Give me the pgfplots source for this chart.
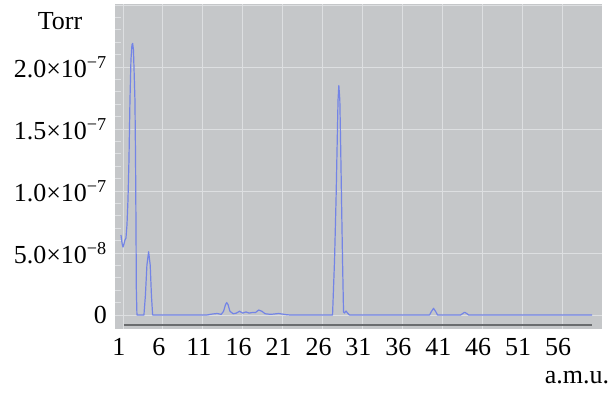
\documentclass[border=0pt]{standalone}
\usepackage{fontspec}
\setmainfont{Liberation Serif}
\usepackage{pgfplots}
\pgfplotsset{compat=1.18}
\definecolor{panel}{HTML}{C5C7C9}
\definecolor{gridc}{HTML}{DDDFE1}
\definecolor{trace}{HTML}{7384E6}
\definecolor{barc}{HTML}{6A6C6E}
\newcommand{\sci}[2]{#1×10\textsuperscript{−#2}}
\begin{document}
\begin{tikzpicture}
\begin{axis}[
  name=ax,
  scale only axis,
  width=487bp, height=325bp,
  xmin=0, xmax=61,
  ymin=-1.13e-8, ymax=2.508e-7,
  scaled y ticks=false,
  scaled x ticks=false,
  axis background/.style={fill=panel},
  axis line style={draw=none},
  xtick={1,6,11,16,21,26,31,36,41,46,51,56},
  xticklabels={1,6,11,16,21,26,31,36,41,46,51,56},
  ytick={0,5e-8,1e-7,1.5e-7,2e-7,2.5e-7},
  yticklabels={0,\sci{5.0}{8},\sci{1.0}{7},\sci{1.5}{7},\sci{2.0}{7},{}},
  major tick length=0pt,
  minor y tick num=4,
  minor tick length=6bp,
  ytick pos=left,
  xtick pos=bottom,
  tick align=inside,
  minor y tick style={draw=gridc, line width=0.6bp},
  grid=major,
  major grid style={draw=gridc, line width=0.9bp},
  tick label style={font=\fontsize{26bp}{30bp}\selectfont},
  xticklabel style={anchor=base, inner sep=0pt, yshift=-26bp, xshift=-4bp},
  yticklabel style={anchor=east, inner sep=0pt, xshift=-8bp},
]
\addplot[draw=barc, line width=2.5bp] coordinates {(1.1,-0.81e-8) (59.75,-0.81e-8)};
\addplot[draw=trace, line width=1.2bp, line join=round] coordinates {
(0.75,6.45e-8) (0.875,5.81e-8) (1.0,5.48e-8) (1.125,5.73e-8) (1.25,6.05e-8) (1.375,6.21e-8)
(1.5,7.26e-8) (1.625,9.27e-8) (1.75,1.25e-7) (1.875,1.73e-7) (2.0,2.06e-7) (2.125,2.18e-7)
(2.21,2.19e-7) (2.31,2.14e-7) (2.41,1.93e-7) (2.5,1.73e-7) (2.575,1.24e-7) (2.625,7.66e-8)
(2.675,2.01e-8) (2.75,0) (3.625,0) (3.8125,1.61e-8) (4.0,4.03e-8) (4.21,5.1e-8)
(4.41,4.03e-8) (4.5625,1.61e-8) (4.7125,0)
(11.5,0) (12.2,0.08e-8) (12.8,0.12e-8) (13.3,0.05e-8) (13.6,0.3e-8) (13.85,0.85e-8) (14.0,1.0e-8)
(14.15,0.85e-8) (14.4,0.3e-8) (14.8,0.1e-8) (15.2,0.15e-8) (15.6,0.3e-8) (16.0,0.15e-8)
(16.4,0.25e-8) (16.8,0.15e-8) (17.2,0.2e-8) (17.6,0.2e-8) (18.0,0.4e-8) (18.4,0.3e-8)
(18.8,0.1e-8) (19.5,0.05e-8) (20.5,0.12e-8) (21.5,0.02e-8) (22,0)
(27.25,0) (27.5,4.44e-8) (27.6875,9.27e-8) (27.8125,1.331e-7) (27.9375,1.734e-7)
(28.0375,1.85e-7) (28.1625,1.734e-7) (28.275,1.331e-7) (28.375,9.27e-8) (28.5,4.44e-8)
(28.625,0.24e-8) (28.75,0.16e-8) (28.9375,0.32e-8) (29.125,0.16e-8) (29.375,0)
(39.4,0) (39.65,0.3e-8) (39.9,0.54e-8) (40.15,0.3e-8) (40.4,0)
(43.3,0) (43.55,0.12e-8) (43.8,0.22e-8) (44.05,0.12e-8) (44.3,0) (59.75,0)
};
\end{axis}
\node[anchor=base, font=\fontsize{26bp}{30bp}\selectfont, inner sep=0pt]
  at ([xshift=-55bp, yshift=-26bp]ax.north west) {Torr};
\node[anchor=base, font=\fontsize{26bp}{30bp}\selectfont, inner sep=0pt]
  at ([xshift=-25bp, yshift=-54bp]ax.south east) {a.m.u.};
\pgfresetboundingbox
\path[use as bounding box] (-115bp,-65bp) rectangle (497bp,329bp);
\end{tikzpicture}
\end{document}
